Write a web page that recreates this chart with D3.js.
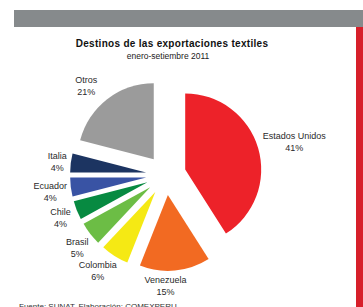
<!DOCTYPE html>
<html lang="es">
<head>
  <meta charset="UTF-8">
  <title>Destinos de las exportaciones textiles</title>
  <script src="https://d3js.org/d3.v7.min.js"></script>
  <style>
    body { margin: 0; background: #fff; }
    text { font-family: "Liberation Sans", Arial, sans-serif; fill: #222; }
    .title { font-size: 10px; font-weight: bold; fill: #111; letter-spacing: 0.3px; }
    .subtitle { font-size: 8.5px; }
    .label { font-size: 9px; text-anchor: middle; fill: #2a2a2a; }
    .source { font-size: 8px; fill: #333; }
  </style>
</head>
<body>
  <div id="chart"></div>
  <script>
    // datos
    const destinos = ["Estados Unidos", "Venezuela", "Colombia", "Brasil", "Chile", "Ecuador", "Italia", "Otros"];
    const participacion = [41, 15, 6, 5, 4, 4, 4, 21];
    const colores = ["#ed2229", "#f26a22", "#f5e914", "#6cbd45", "#078a41", "#3953a4", "#1c3461", "#9b9b9b"];

    const width = 363, height = 307;
    const cx = 166, cy = 175, radius = 76, explode = 20;

    // ajuste fino de las etiquetas (x, y)
    const nudge = [[1, -2], [-12, -1], [-4, 1], [0, 4], [-2, 2], [1, 3], [1, 1], [-11, -1]];

    const data = destinos.map((d, i) => ({ destino: d, valor: participacion[i], color: colores[i] }));

    const svg = d3.select("#chart")
      .append("svg")
      .attr("width", width)
      .attr("height", height);

    // barras decorativas
    svg.append("rect")
      .attr("x", 14).attr("y", 10)
      .attr("width", width - 14).attr("height", 17)
      .attr("fill", "#868a8c");
    svg.append("rect")
      .attr("x", 356).attr("y", 27)
      .attr("width", 7).attr("height", height - 27)
      .attr("fill", "#d71f2a");

    svg.append("text")
      .attr("class", "title")
      .attr("x", 172).attr("y", 47)
      .attr("text-anchor", "middle")
      .text("Destinos de las exportaciones textiles");
    svg.append("text")
      .attr("class", "subtitle")
      .attr("x", 168).attr("y", 59)
      .attr("text-anchor", "middle")
      .text("enero-setiembre 2011");

    const pie = d3.pie().sort(null).value(d => d.valor);
    const arc = d3.arc().innerRadius(0).outerRadius(radius);
    const arcs = pie(data);

    const mid = d => (d.startAngle + d.endAngle) / 2;

    const g = svg.append("g").attr("transform", `translate(${cx},${cy})`);

    g.selectAll("path")
      .data(arcs)
      .join("path")
        .attr("transform", d => `translate(${explode * Math.sin(mid(d))},${-explode * Math.cos(mid(d))})`)
        .attr("d", arc)
        .attr("fill", d => d.data.color);

    // etiquetas fuera del borde
    const labels = g.selectAll("g.lab")
      .data(arcs)
      .join("g")
        .attr("class", "lab");

    labels.each(function(d, i) {
      const el = d3.select(this);
      const t1 = el.append("text").attr("class", "label").attr("x", 0).attr("y", 0).text(d.data.destino);
      const t2 = el.append("text").attr("class", "label").attr("x", 0).attr("y", 12).text(d.data.valor + "%");
      const w = Math.max(t1.node().getComputedTextLength(), t2.node().getComputedTextLength());
      const ux = Math.sin(mid(d)), uy = -Math.cos(mid(d));
      const r = radius + explode + 5;
      const bx = ux * r + ux * w / 2 + nudge[i][0];
      const by = uy * r + uy * 11 + nudge[i][1];
      el.attr("transform", `translate(${bx},${by - 3})`);
    });

    svg.append("text")
      .attr("class", "source")
      .attr("x", 19).attr("y", 308.5)
      .text("Fuente: SUNAT. Elaboración: COMEXPERU.");
  </script>
</body>
</html>
